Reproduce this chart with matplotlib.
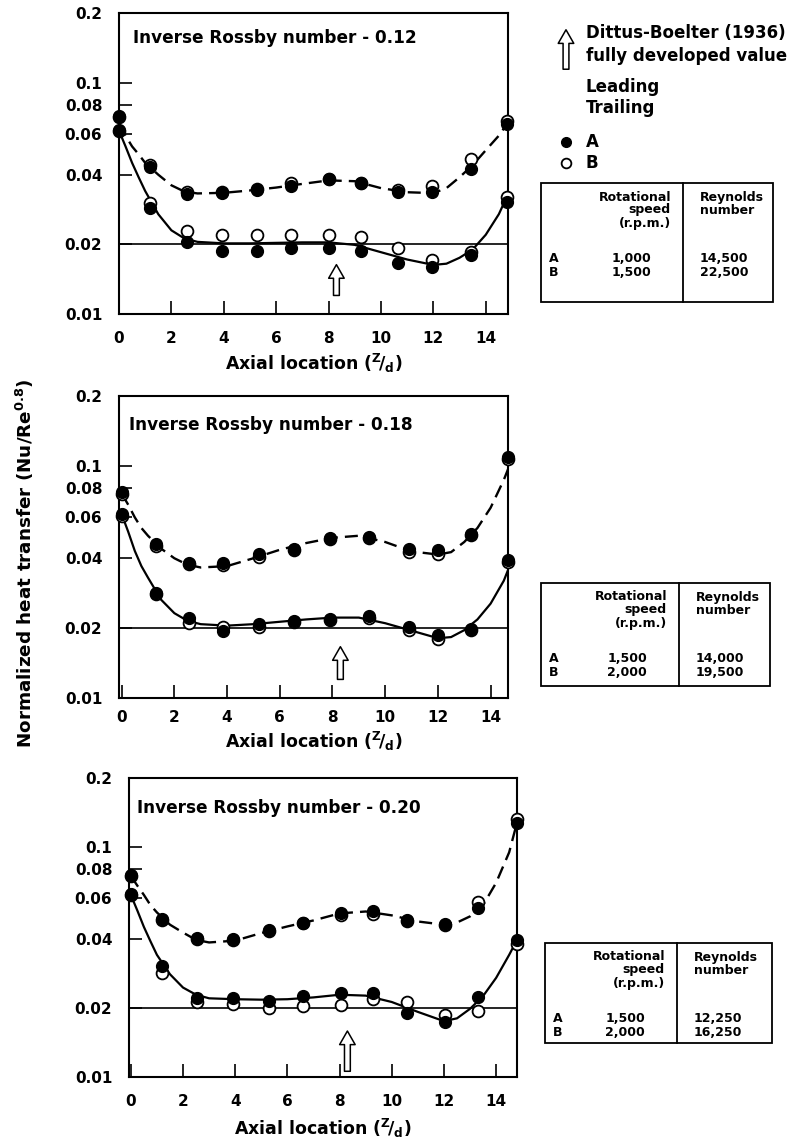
import matplotlib
matplotlib.use('Agg')
import matplotlib.pyplot as plt
from matplotlib.patches import FancyArrowPatch, Rectangle
from matplotlib.lines import Line2D

plt.rcParams['font.family'] = ['DejaVu Sans']
plt.rcParams['font.weight'] = 'bold'
plt.rcParams['mathtext.default'] = 'bf'

# ---- data ----
rossby = ['0.12', '0.18', '0.20']
rpm_A = ['1,000', '1,500', '1,500']
rpm_B = ['1,500', '2,000', '2,000']
re_A = ['14,500', '14,000', '12,250']
re_B = ['22,500', '19,500', '16,250']
db_value = 0.020  # Dittus-Boelter fully developed value

# measured points (axial location z/d)
x1 = [0, 1.2, 2.6, 3.95, 5.25, 6.55, 8.0, 9.25, 10.65, 11.95, 13.45, 14.8]
x2 = [0, 1.3, 2.55, 3.85, 5.2, 6.55, 7.9, 9.4, 10.9, 12.0, 13.25, 14.66]
x3 = [0, 1.2, 2.55, 3.9, 5.3, 6.6, 8.05, 9.3, 10.6, 12.05, 13.3, 14.8]

p1_trail_A = [0.072, 0.043, 0.0329, 0.0334, 0.0344, 0.0359, 0.0382, 0.0368, 0.0337, 0.0336, 0.0422, 0.0663]
p1_trail_B = [0.071, 0.044, 0.0338, 0.0336, 0.0346, 0.0370, 0.0385, 0.0370, 0.0344, 0.0356, 0.0468, 0.068]
p1_lead_A = [0.0624, 0.0287, 0.0205, 0.0188, 0.0188, 0.0193, 0.0193, 0.0188, 0.0166, 0.0160, 0.0180, 0.0305]
p1_lead_B = [0.062, 0.0302, 0.0229, 0.0219, 0.0219, 0.0219, 0.0219, 0.0215, 0.0193, 0.0171, 0.0186, 0.0322]

p2_trail_A = [0.0775, 0.0459, 0.0382, 0.0382, 0.0417, 0.0440, 0.0490, 0.0494, 0.0437, 0.0433, 0.0510, 0.109]
p2_trail_B = [0.076, 0.0452, 0.0378, 0.0373, 0.0405, 0.0436, 0.0485, 0.0490, 0.0426, 0.0419, 0.0505, 0.107]
p2_lead_A = [0.0618, 0.0283, 0.0222, 0.0194, 0.0209, 0.0214, 0.0219, 0.0225, 0.0202, 0.0186, 0.0199, 0.0392]
p2_lead_B = [0.061, 0.0280, 0.0211, 0.0202, 0.0202, 0.0212, 0.0217, 0.0222, 0.0197, 0.0180, 0.0196, 0.0385]

p3_trail_A = [0.0758, 0.0486, 0.0404, 0.0397, 0.0437, 0.0470, 0.0519, 0.0530, 0.0482, 0.0462, 0.0542, 0.128]
p3_trail_B = [0.075, 0.048, 0.040, 0.0395, 0.0432, 0.0466, 0.0507, 0.0513, 0.0478, 0.0458, 0.058, 0.132]
p3_lead_A = [0.0626, 0.0304, 0.0221, 0.0220, 0.0214, 0.0226, 0.0233, 0.0233, 0.0190, 0.0173, 0.0223, 0.0395]
p3_lead_B = [0.062, 0.0283, 0.0211, 0.0208, 0.0200, 0.0203, 0.0205, 0.0218, 0.0211, 0.0187, 0.0194, 0.0378]

# faired curves, read at these locations
curve_x = [0, 0.25, 0.5, 0.75, 1, 1.5, 2, 2.5, 3, 4, 5, 6, 7, 8, 9, 10, 11, 12, 12.5, 13, 13.5, 14, 14.5, 14.8]
p1_lead_curve = [0.062, 0.053, 0.045, 0.039, 0.034, 0.027, 0.023, 0.0212, 0.0205, 0.0202, 0.0202, 0.0203,
                 0.0204, 0.0204, 0.0199, 0.0185, 0.0172, 0.0163, 0.0165, 0.0175, 0.019, 0.022, 0.027, 0.032]
p1_trail_curve = [0.066, 0.059, 0.053, 0.049, 0.045, 0.040, 0.036, 0.0338, 0.0332, 0.0334, 0.0342, 0.0352,
                  0.0365, 0.0378, 0.0375, 0.035, 0.0336, 0.0333, 0.035, 0.039, 0.044, 0.051, 0.059, 0.066]
p2_lead_curve = [0.062, 0.052, 0.043, 0.037, 0.033, 0.0265, 0.0232, 0.0215, 0.0208, 0.0205, 0.0208, 0.0213,
                 0.0218, 0.0222, 0.0222, 0.0210, 0.0195, 0.0181, 0.0183, 0.0196, 0.0218, 0.0255, 0.032, 0.039]
p2_trail_curve = [0.076, 0.068, 0.060, 0.054, 0.050, 0.044, 0.040, 0.0375, 0.0365, 0.037, 0.040, 0.0435,
                  0.0465, 0.049, 0.050, 0.047, 0.0428, 0.0415, 0.0425, 0.047, 0.054, 0.066, 0.087, 0.106]
p3_lead_curve = [0.062, 0.053, 0.045, 0.039, 0.034, 0.028, 0.0245, 0.0228, 0.022, 0.0218, 0.0217, 0.0218,
                 0.0222, 0.0228, 0.0226, 0.0212, 0.0192, 0.0175, 0.018, 0.0198, 0.0225, 0.027, 0.034, 0.0395]
p3_trail_curve = [0.075, 0.068, 0.062, 0.056, 0.052, 0.046, 0.0425, 0.0395, 0.0385, 0.0392, 0.0423, 0.0452,
                  0.048, 0.0515, 0.0525, 0.0505, 0.0475, 0.046, 0.047, 0.050, 0.056, 0.070, 0.095, 0.128]

yticks = [0.01, 0.02, 0.04, 0.06, 0.08, 0.1, 0.2]
ytick_labels = ['0.01', '0.02', '0.04', '0.06', '0.08', '0.1', '0.2']
xticks = [0, 2, 4, 6, 8, 10, 12, 14]

W, H = 804, 1141
fig = plt.figure(figsize=(W / 100, H / 100), dpi=100)


def fx(x):
    return x / W


def fy(y):
    return 1 - y / H


panels = [
    dict(rect=(119, 13, 508, 314), xlim=(0, 14.85), x=x1,
         tA=p1_trail_A, tB=p1_trail_B, lA=p1_lead_A, lB=p1_lead_B,
         lc=p1_lead_curve, tc=p1_trail_curve, title_pos=(0.036, 0.917), xlab_y=-0.163, pad=12,
         arrow=(0.0117, 0.0168)),
    dict(rect=(119, 396, 508, 698), xlim=(-0.1, 14.66), x=x2,
         tA=p2_trail_A, tB=p2_trail_B, lA=p2_lead_A, lB=p2_lead_B,
         lc=p2_lead_curve, tc=p2_trail_curve, title_pos=(0.026, 0.905), xlab_y=-0.145, pad=9,
         arrow=(0.0117, 0.0171)),
    dict(rect=(129, 778, 517, 1077), xlim=(-0.07, 14.8), x=x3,
         tA=p3_trail_A, tB=p3_trail_B, lA=p3_lead_A, lB=p3_lead_B,
         lc=p3_lead_curve, tc=p3_trail_curve, title_pos=(0.02, 0.9), xlab_y=-0.173, pad=12,
         arrow=(0.0103, 0.0163)),
]

for i, p in enumerate(panels):
    l, t, r, b = p['rect']
    ax = fig.add_axes([fx(l), fy(b), (r - l) / W, (b - t) / H])
    ax.set_yscale('log')
    ax.set_ylim(0.01, 0.2)
    ax.set_xlim(*p['xlim'])

    ax.axhline(db_value, color='black', lw=1.2)
    ax.plot(curve_x, p['lc'], color='black', lw=1.6)
    ax.plot(curve_x, p['tc'], color='black', lw=1.7, ls=(0, (5.5, 3)))

    for yB in (p['tB'], p['lB']):
        ax.plot(p['x'], yB, 'o', ms=8.5, mfc='white', mec='black', mew=1.3, clip_on=False, zorder=3)
    for yA in (p['tA'], p['lA']):
        ax.plot(p['x'], yA, 'o', ms=8.5, mfc='black', mec='black', clip_on=False, zorder=4)

    a0, a1 = p['arrow']
    ax.add_patch(FancyArrowPatch((8.3, a0), (8.3, a1), arrowstyle='simple,head_length=0.7,head_width=0.8,tail_width=0.3',
                                 mutation_scale=14, fc='white', ec='black', lw=1.1))

    ax.set_yticks(yticks)
    ax.set_yticklabels(ytick_labels)
    ax.yaxis.set_minor_locator(plt.NullLocator())
    ax.set_xticks(xticks)
    ax.set_xticklabels([str(v) for v in xticks])
    ax.tick_params(direction='in', length=9.5, width=1.2, labelsize=11)
    ax.tick_params(axis='y', pad=12)
    ax.tick_params(axis='x', pad=p['pad'])
    for s in ax.spines.values():
        s.set_linewidth(1.5)

    ax.text(*p['title_pos'], 'Inverse Rossby number - ' + rossby[i], transform=ax.transAxes,
            ha='left', va='center', fontsize=12.2)
    ax.text(0.5, p['xlab_y'], r'Axial location ($^{Z}\!/_{d}$)', transform=ax.transAxes,
            ha='center', va='center', fontsize=12.5)

fig.text(fx(25), fy(563), r'Normalized heat transfer (Nu/Re$^{0.8}$)', rotation=90,
         ha='center', va='center', fontsize=13.2)

# legend block
fig.add_artist(FancyArrowPatch((fx(566), fy(72)), (fx(566), fy(27)), transform=fig.transFigure,
                               arrowstyle='simple,head_length=0.7,head_width=0.8,tail_width=0.3',
                               mutation_scale=14, fc='white', ec='black', lw=1.1))
fig.text(fx(586), fy(33), 'Dittus-Boelter (1936)', ha='left', va='center', fontsize=12)
fig.text(fx(586), fy(56), 'fully developed value', ha='left', va='center', fontsize=12)
fig.text(fx(586), fy(87), 'Leading', ha='left', va='center', fontsize=12)
fig.text(fx(586), fy(108), 'Trailing', ha='left', va='center', fontsize=12)
fig.add_artist(Line2D([fx(566)], [fy(142)], marker='o', ms=7, mfc='black', mec='black', transform=fig.transFigure))
fig.add_artist(Line2D([fx(566)], [fy(163)], marker='o', ms=7, mfc='white', mec='black', mew=1.3,
                      transform=fig.transFigure))
fig.text(fx(586), fy(142), 'A', ha='left', va='center', fontsize=12)
fig.text(fx(586), fy(163), 'B', ha='left', va='center', fontsize=12)

# parameter tables
tables = [(541, 183, 773, 302, 683), (541, 583, 770, 686, 679), (545, 943, 772, 1043, 677)]
for i, (l, t, r, b, d) in enumerate(tables):
    fig.add_artist(Rectangle((fx(l), fy(b)), (r - l) / W, (b - t) / H, transform=fig.transFigure,
                             fill=False, ec='black', lw=1.3))
    fig.add_artist(Line2D([fx(d), fx(d)], [fy(t), fy(b)], color='black', lw=1.3, transform=fig.transFigure))
    for k, s in enumerate(['Rotational', 'speed', '(r.p.m.)']):
        fig.text(fx(d - 12), fy(t + 14 + 13 * k), s, ha='right', va='center', fontsize=9)
    for k, s in enumerate(['Reynolds', 'number']):
        fig.text(fx(d + 17), fy(t + 14 + 13 * k), s, ha='left', va='center', fontsize=9)
    for k, (lab, rpm, re) in enumerate([('A', rpm_A[i], re_A[i]), ('B', rpm_B[i], re_B[i])]):
        yy = fy(t + 75 + 14 * k)
        fig.text(fx(l + 8), yy, lab, ha='left', va='center', fontsize=9)
        fig.text(fx(d - 32), yy, rpm, ha='right', va='center', fontsize=9)
        fig.text(fx(d + 17), yy, re, ha='left', va='center', fontsize=9)

fig.savefig('out.png', dpi=100)
